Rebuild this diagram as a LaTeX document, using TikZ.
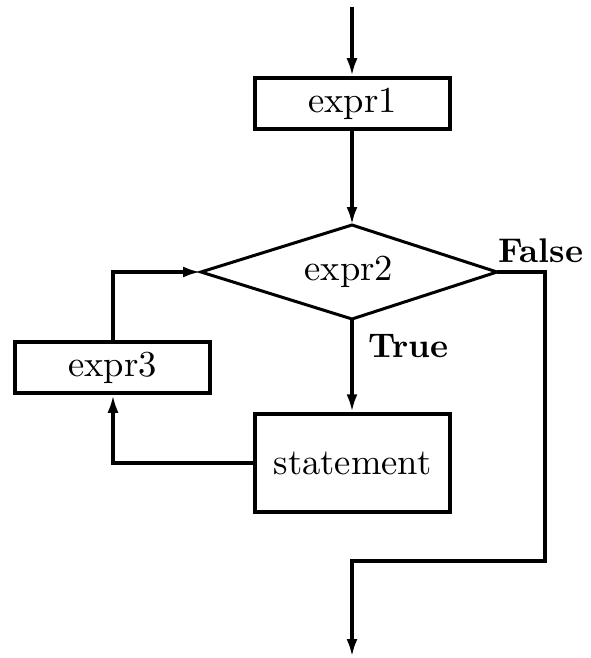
\documentclass[tikz,border=0pt]{standalone}
\usepackage{graphicx}
\usetikzlibrary{arrows.meta}
\newcommand{\bigtxt}[1]{\scalebox{3.66}{\fontsize{10}{12}\selectfont #1}}
\newcommand{\bigbf}[1]{\scalebox{3.42}{\fontsize{10}{12}\selectfont\bfseries #1}}
\begin{document}
\begin{tikzpicture}[x=1pt,y=-1pt,
  box/.style={draw,line width=3.5pt,inner sep=0pt},
  txt/.style={inner sep=0pt},
  lab/.style={inner sep=0pt,anchor=base west},
  flow/.style={line width=4pt,-{Latex[length=18pt,width=11pt]}},
  dline/.style={line width=3pt,line join=miter}]
\useasboundingbox (0,0) rectangle (591,658);
\coordinate (start) at (352,7);
\node[box,minimum width=195pt,minimum height=51pt] (e1) at (352.5,103.5) {\bigtxt{expr1}};
\node[txt] (e2) at (349,272) {\bigtxt{expr2}};
\coordinate (e2t) at (352,225);
\coordinate (e2b) at (352,319);
\coordinate (e2l) at (201,272);
\coordinate (e2r) at (497,272);
\draw[dline] (e2t) -- (e2r) -- (e2b) -- (e2l) -- cycle;
\node[box,minimum width=195pt,minimum height=51pt] (e3) at (112.5,367.5) {\bigtxt{expr3}};
\node[box,minimum width=195pt,minimum height=98pt] (st) at (352.5,463) {\bigtxt{statement}};
\coordinate (fr) at (545,272);
\coordinate (fb) at (545,561);
\coordinate (fm) at (352,561);
\coordinate (end) at (352,657);
\coordinate (lb) at (113,463);
\coordinate (lt) at (113,272);
\node[lab] (tr) at (368,357) {\bigbf{True}};
\node[lab] (fa) at (498,262) {\bigbf{False}};
\draw[flow] (start) -- (start |- e1.north);
\draw[flow] (e1.south -| start) -- (e2t);
\draw[flow] (e2b) -- (st.north -| start);
\draw[flow] (st.west) -- (lb) -- (e3.south -| lb);
\draw[flow] (e3.north -| lt) -- (lt) -- (e2l);
\draw[flow] (e2r) -- (fr) -- (fb) -- (fm) -- (end);
\end{tikzpicture}
\end{document}
